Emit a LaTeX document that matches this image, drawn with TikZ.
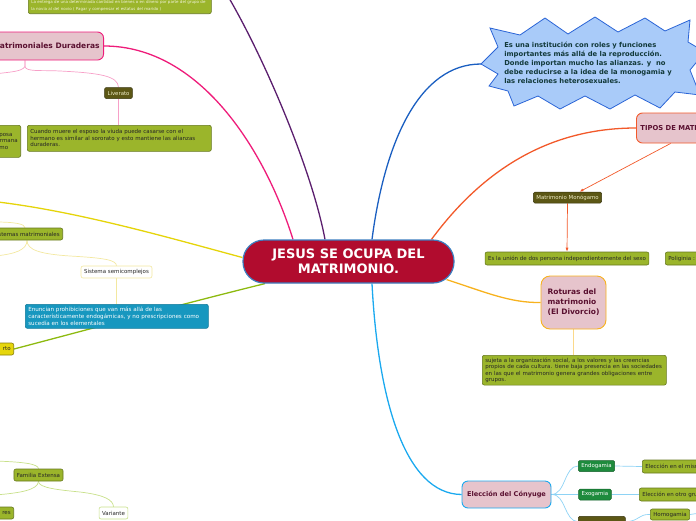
\documentclass[tikz,border=0pt]{standalone}
\usepackage{fontspec}
\setmainfont{DejaVu Sans}
\usepackage{tikz}
\usetikzlibrary{positioning}
\usetikzlibrary{backgrounds}
\usetikzlibrary{arrows.meta}

\definecolor{hubred}{HTML}{B10C2E}
\definecolor{hubrim}{HTML}{3C7EC0}
\definecolor{topicpink}{HTML}{E6C4CC}
\definecolor{topictext}{HTML}{5A1030}
\definecolor{leafgreen}{HTML}{9BB52B}
\definecolor{leafrim}{HTML}{66781E}
\definecolor{dotetext}{HTML}{F2F4DC}
\definecolor{tagolive}{HTML}{5C5715}
\definecolor{tagtext}{HTML}{F0EEC8}
\definecolor{gtaggreen}{HTML}{1E8B3D}
\definecolor{notefill}{HTML}{1797BF}
\definecolor{noterim}{HTML}{127A9A}
\definecolor{flagyellow}{HTML}{E6D60C}
\definecolor{burstfill}{HTML}{A9CBF9}
\definecolor{burstrim}{HTML}{2A64D6}
\definecolor{bursttext}{HTML}{12393A}
\definecolor{pinkmain}{HTML}{EE1C7A}
\definecolor{pinksub}{HTML}{F7A0C8}
\definecolor{purplemain}{HTML}{5B1F6E}
\definecolor{bluemain}{HTML}{1B5FC1}
\definecolor{redmain}{HTML}{F2592A}
\definecolor{orangemain}{HTML}{F7B21E}
\definecolor{orangesub}{HTML}{FBD98A}
\definecolor{skymain}{HTML}{1BA9EF}
\definecolor{skysub}{HTML}{8ED3F5}
\definecolor{yellowmain}{HTML}{E5D40A}
\definecolor{yellowsub}{HTML}{F3E8A0}
\definecolor{greenmain}{HTML}{8DBA10}
\definecolor{greensub}{HTML}{C8E08A}

\tikzset{
  hub/.style={draw=hubrim, line width=1.2pt, fill=hubred, text=white,
    rounded corners=21pt, minimum width=211pt, minimum height=43pt,
    align=center, font=\fontsize{13}{14.5}\selectfont\bfseries},
  topic/.style={draw=#1, line width=0.9pt, fill=topicpink, text=topictext,
    rounded corners=6pt, inner xsep=4pt, align=left,
    font=\fontsize{7.5}{10}\selectfont\bfseries},
  leaf/.style={draw=leafrim, line width=0.6pt, fill=leafgreen, text=black!85,
    rounded corners=2pt, align=left, inner xsep=3pt, inner ysep=2.5pt,
    font=\fontsize{5.5}{6.5}\selectfont},
  tag/.style={draw=tagolive!60!black, line width=0.5pt, fill=tagolive, text=tagtext,
    rounded corners=1.5pt, inner xsep=3pt, inner ysep=0pt, minimum height=11pt,
    font=\fontsize{5.4}{6}\selectfont},
  gtag/.style={tag, fill=gtaggreen, draw=gtaggreen!70!black, text=white},
  ghost/.style={draw=#1, line width=0.6pt, fill=white, text=black!85,
    rounded corners=2pt, inner xsep=3pt, inner ysep=0pt, minimum height=12pt,
    font=\fontsize{5.5}{6}\selectfont},
  note/.style={draw=noterim, line width=0.6pt, fill=notefill, text=white,
    rounded corners=2pt, align=left, inner xsep=3pt, inner ysep=2.5pt,
    font=\fontsize{5.6}{6.8}\selectfont},
  flag/.style={leaf, fill=flagyellow, draw=flagyellow!60!black},
  branch/.style={line width=1.3pt},
  twig/.style={line width=0.7pt},
  burst/.style={draw=burstrim, fill=burstfill, line width=0.8pt, line join=miter},
}

\begin{document}
\begin{tikzpicture}[x=1pt, y=-1pt]
  \useasboundingbox (0,0) rectangle (696,520);
  \clip (0,0) rectangle (696,520);

  % centre
  \node[hub] (jesus) at (348.5,261.5) {JESUS SE OCUPA DEL\\MATRIMONIO.};

  % top left: alianzas
  \node[leaf, anchor=south west, text=dotetext, text width=177pt,
    font=\fontsize{4}{7}\selectfont] (dote) at (28,14)
    {La entrega de una determinada cantidad en bienes o en dinero por parte del grupo de\\la novia al del novio ( Pagar y compensar el estatus del marido )};
  \node[topic=pinkmain, anchor=east, minimum height=28pt] (durad) at (104,46) {Matrimoniales Duraderas};
  \node[tag] (liver) at (118.5,93) {Liverato};
  \node[leaf, anchor=north west, text width=178pt, minimum height=26pt] (viuda) at (27,125)
    {Cuando muere el esposo la viuda puede casarse con el\\hermano es similar al sororato y esto mantiene las alianzas\\duraderas.};
  \node[leaf, anchor=north east, minimum height=32pt] (esposa) at (21,125) {esposa\\hermana\\como};

  % left: sistemas
  \node[leaf, anchor=east, minimum height=12pt, inner ysep=0pt] (sist) at (63,234) {Sistemas matrimoniales};
  \node[ghost=yellowsub] (semi) at (116.5,272) {Sistema semicomplejos};
  \node[note, anchor=north west, text width=177pt, minimum height=24pt] (enun) at (25,304)
    {Enuncian prohibiciones que van más allá de las\\característicamente endogámicas, y no prescripciones como\\sucedía en los elementales};
  \node[flag, anchor=east, minimum height=12pt, inner ysep=0pt, text width=18pt, align=right] (rto) at (14,349) {rto};

  % bottom left: familia
  \node[leaf, minimum height=12pt, inner ysep=0pt] (fam) at (38.5,475) {Familia Extensa};
  \node[leaf, anchor=east, minimum height=12pt, inner ysep=0pt, text width=18pt, align=right] (res) at (14,513) {res};
  \node[ghost=greensub] (var) at (113.5,513) {Variante};

  % top right: definicion
  \draw[burst] (481,64) -- (498,47) -- (490,28) -- (520,35) -- (545,18) -- (568,34)
    -- (595,17) -- (618,32) -- (645,18) -- (665,31) -- (690,20) -- (688,42)
    -- (705,52) -- (690,70) -- (700,95) -- (675,92) -- (660,108) -- (635,95)
    -- (610,109) -- (585,96) -- (560,109) -- (538,96) -- (514,106) -- (508,91)
    -- (489,86) -- (498,74) -- cycle;
  \coordinate (bursttip) at (481,64);
  \node[align=left, text=bursttext, font=\fontsize{6.8}{9}\selectfont\bfseries] (defin) at (588,63)
    {Es una institución con roles y funciones\\importantes más allá de la reproducción.\\Donde importan mucho las alianzas. y\ \ no\\debe reducirse a la idea de la monogamia y\\las relaciones heterosexuales.};

  % right: tipos
  \node[topic=redmain, anchor=west, minimum height=30pt, font=\fontsize{6.8}{8}\selectfont\bfseries] (tipos) at (636,128) {TIPOS DE MATRIMONIO};
  \node[tag] (mono) at (567.5,197.5) {Matrimonio Monógamo};
  \node[leaf, minimum height=13pt, inner ysep=0pt] (union) at (567,258.5) {Es la unión de dos persona independientemente del sexo};
  \node[leaf, anchor=west, minimum height=13pt, inner ysep=0pt] (polig) at (665,258.5) {Poliginia :};

  % right: divorcio
  \node[topic=orangemain, minimum width=65pt, minimum height=53pt, rounded corners=9pt] (rot) at (573.5,302.5)
    {Roturas del\\matrimonio\\(El Divorcio)};
  \node[leaf, anchor=north west, text width=178pt, font=\fontsize{5.5}{6.4}\selectfont] (sujeta) at (482,355)
    {sujeta a la organización social, a los valores y las creencias\\propios de cada cultura. tiene baja presencia en las sociedades\\en las que el matrimonio genera grandes obligaciones entre\\grupos.};

  % bottom right: conyuge
  \node[topic=skymain, minimum width=89pt, minimum height=27pt, font=\fontsize{6.6}{8}\selectfont\bfseries] (elec) at (506.5,494.5) {Elección del Cónyuge};
  \node[gtag] (endo) at (596.5,466) {Endogamia};
  \node[gtag] (exo) at (595,494.5) {Exogamia};
  \node[tag, anchor=north west, minimum width=47pt] (cuarto) at (578,516) {};
  \node[leaf, anchor=west, minimum height=13pt, inner ysep=0pt] (mismo) at (642,466.5) {Elección en el mismo grupo};
  \node[leaf, anchor=west, minimum height=13pt, inner ysep=0pt] (otro) at (639,494.5) {Elección en otro grupo};
  \node[leaf, minimum height=11pt, inner ysep=0pt] (homo) at (670,514.5) {Homogamia};

  \begin{scope}[on background layer]
    % main branches
    \draw[branch, pinkmain] (durad.east) .. controls (200,46) and (265,150) .. ([xshift=-55.5pt]jesus.north);
    \coordinate (ptop) at (229,-2);
    \draw[branch, purplemain] (ptop) .. controls (265,60) and (312,170) .. ([xshift=-23.5pt]jesus.north);
    \draw[branch, bluemain] ([xshift=23.5pt]jesus.north) .. controls (385,140) and (420,64) .. (bursttip);
    \draw[branch, redmain] ([xshift=83pt]jesus.north) .. controls (490,160) and (560,128) .. (tipos.west);
    \draw[branch, orangemain] ([xshift=-8pt,yshift=4pt]jesus.south east) .. controls (485,292) and (510,303) .. (rot.west);
    \draw[branch, skymain] ([xshift=23.5pt]jesus.south) .. controls (378,400) and (405,494) .. (elec.west);
    \coordinate (ytail) at (-2,202);
    \draw[branch, yellowmain] ([yshift=4pt]jesus.west) .. controls (170,238) and (80,212) .. (ytail);
    \draw[branch, greenmain] ([xshift=-83.5pt]jesus.south) .. controls (190,302) and (90,329) .. (rto.east);

    % alianzas
    \coordinate (dsplit) at ([xshift=-79pt]durad.south east);
    \draw[twig, pinksub] (dsplit) -- ++(0,6) .. controls (26,72) and (40,70) .. (60,71)
      .. controls (100,73) and (118,76) .. (liver.north);
    \draw[twig, pinksub] (dsplit) -- ++(0,6) .. controls (22,72) and (8,72) .. (-5,74);
    \draw[twig, pinksub] (liver.south) -- (viuda.north -| liver.south);

    % sistemas
    \coordinate (ysplit) at ([xshift=-36pt]sist.south east);
    \draw[twig, yellowsub] (ysplit) .. controls (27,250) and (40,254) .. (70,256)
      .. controls (105,258) and (116,260) .. (semi.north);
    \draw[twig, yellowsub] (ysplit) .. controls (27,250) and (15,254) .. (-5,256);
    \draw[twig, yellowsub] ([xshift=-38pt]sist.north east) .. controls (25,224) and (15,222) .. (-5,222);
    \draw[twig, yellowsub] (semi.south) -- (semi.south |- enun.north);

    % familia
    \draw[twig, greensub] (fam.north) .. controls (38,464) and (25,462) .. (-5,461);
    \draw[twig, greensub] (fam.south) .. controls (38,488) and (60,490) .. (80,492)
      .. controls (105,495) and (113,500) .. (var.north);
    \draw[twig, greensub] (fam.south) .. controls (38,490) and (20,493) .. (-5,495);

    % tipos
    \draw[twig, redmain, -{Latex[length=4pt,width=3pt]}] ([xshift=-14pt]tipos.south) -- ([xshift=12pt]mono.north);
    \draw[twig, redmain, -{Latex[length=4pt,width=3pt]}] (mono.south) -- (union.north);

    % divorcio
    \draw[twig, orangesub] (rot.south) -- (rot.south |- sujeta.north);

    % conyuge
    \draw[twig, skysub] (elec.east) .. controls (566,494) and (564,466) .. (endo.west);
    \draw[twig, skysub] (elec.east) -- (exo.west);
    \draw[twig, skysub] (elec.east) .. controls (566,494) and (564,521) .. (cuarto.west);
    \draw[twig, skysub] (endo.east) -- (mismo.west);
    \draw[twig, skysub] (exo.east) -- (otro.west);
    \draw[twig, skysub] (cuarto.east) .. controls (640,521) and (638,514) .. (homo.west);
    \coordinate (htail) at (700,513);
    \draw[twig, skysub] (homo.east) -- (htail);
  \end{scope}
\end{tikzpicture}
\end{document}
